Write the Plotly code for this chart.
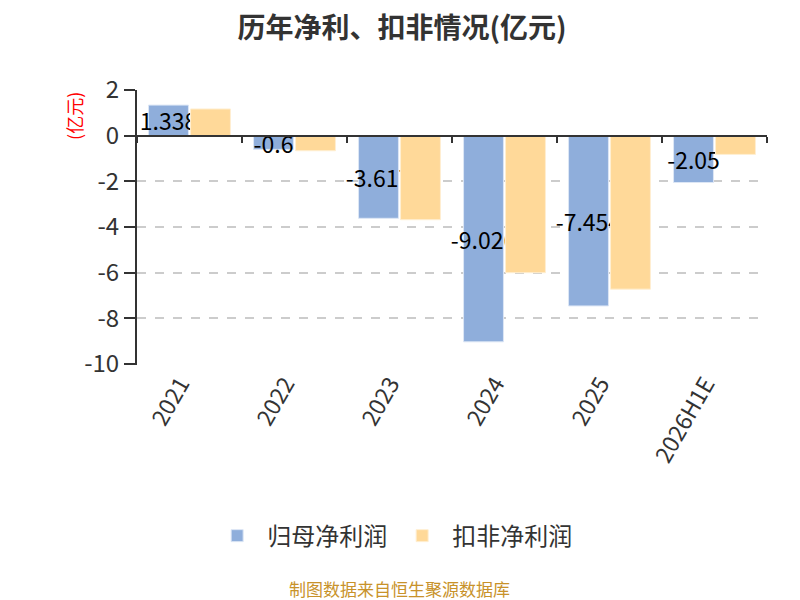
import plotly.graph_objects as go

# data (亿元)
years = ["2021", "2022", "2023", "2024", "2025", "2026H1E"]
net_profit = [1.338, -0.6, -3.617, -9.026, -7.454, -2.05]
net_profit_text = ["1.338", "-0.6", "-3.617", "-9.026", "-7.454", "-2.05"]
deducted_profit = [1.17, -0.66, -3.68, -6.0, -6.72, -0.82]

y_tickvals = [2, 0, -2, -4, -6, -8, -10]
y_ticktext = ["2", "0", "-2", "-4", "-6", "-8", "-10"]

FONT = "Noto Sans CJK SC"

fig = go.Figure()

fig.add_trace(go.Bar(x=years,
                     y=net_profit,
                     name='归母净利润',
                     text=net_profit_text,
                     textposition='inside',
                     insidetextanchor='middle',
                     textangle=0,
                     insidetextfont=dict(color='#000000', size=23,
                                         family=FONT),
                     marker_color='#8FAEDB',
                     marker_line=dict(color='#DCE6F5', width=1)))

fig.add_trace(go.Bar(x=years,
                     y=deducted_profit,
                     name='扣非净利润',
                     marker_color='#FFD999',
                     marker_line=dict(color='#FFEFD2', width=1)))

# x axis line sitting on the zero level, with category boundary ticks
fig.add_trace(go.Scatter(x=[None], y=[None], xaxis='x2',
                         showlegend=False, hoverinfo='skip'))

# page body adds an 8px offset, so the figure is 792x592
fig.update_layout(
    template="none",
    autosize=False,
    width=792,
    height=592,
    margin=dict(l=129, r=33, t=82, b=235),
    paper_bgcolor='white',
    plot_bgcolor='white',
    font=dict(family=FONT, color='#333333'),
    title=dict(text='<b>历年净利、扣非情况(亿元)</b>',
               x=0.4975, xanchor='center', y=0.966, yanchor='middle',
               font=dict(size=28, color='#333333', family=FONT)),
    barmode='group',
    bargap=0.2,
    bargroupgap=0.05,
    uniformtext=dict(minsize=23, mode='show'),
    showlegend=True,
    legend=dict(orientation='h', x=0.405, xanchor='center',
                y=-0.622, yanchor='middle', itemwidth=50,
                font=dict(size=24, color='#333333', family=FONT)),
    xaxis=dict(type='category', showline=False, ticks='', showgrid=False,
               tickangle=-60, tickfont=dict(size=23, color='#333333'),
               ticklabelshift=-9, zeroline=False),
    xaxis2=dict(overlaying='x', anchor='free', position=10 / 12,
                range=[-0.5, 5.5], showline=True, linecolor='#333333',
                linewidth=2, ticks='outside', ticklen=6, tickwidth=2,
                tickcolor='#333333', tickvals=[-0.5, 0.5, 1.5, 2.5,
                                               3.5, 4.5, 5.5],
                showticklabels=False, showgrid=False, zeroline=False),
    yaxis=dict(range=[-10.04, 2.0], tickvals=y_tickvals,
               ticktext=y_ticktext, showline=True,
               linecolor='#333333', linewidth=2, ticks='outside',
               ticklen=11, tickwidth=2, tickcolor='#333333',
               tickfont=dict(size=24, color='#333333'),
               showgrid=True, gridcolor='#CCCCCC', griddash='dash',
               gridwidth=1.5, zeroline=False),
)

fig.add_annotation(text='(亿元)',
                   xref='paper', yref='paper',
                   x=-0.101, y=0.907, textangle=-90,
                   xanchor='center', yanchor='middle',
                   showarrow=False,
                   font=dict(size=18, color='#FF0000', family=FONT))

fig.add_annotation(text='制图数据来自恒生聚源数据库',
                   xref='paper', yref='paper',
                   x=0.417, y=-0.814,
                   xanchor='center', yanchor='middle',
                   showarrow=False,
                   font=dict(size=17, color='#C8922A', family=FONT))

fig.write_html("out.html")
